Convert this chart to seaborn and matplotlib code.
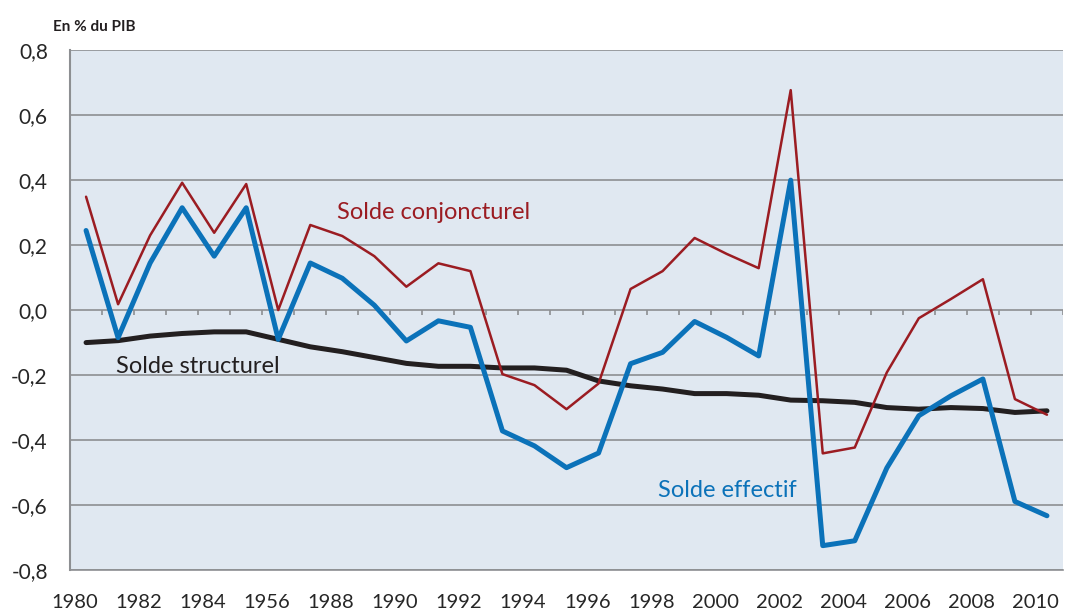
import numpy as np
import pandas as pd
import seaborn as sns
import matplotlib.pyplot as plt
from matplotlib.ticker import FuncFormatter
from matplotlib.transforms import ScaledTranslation

years = list(range(1980, 2011))

solde_effectif = [0.245, -0.085, 0.145, 0.315, 0.166, 0.315, -0.09, 0.145, 0.098, 0.015,
                  -0.095, -0.033, -0.053, -0.372, -0.418, -0.485, -0.44, -0.165, -0.13, -0.035,
                  -0.084, -0.141, 0.40, -0.725, -0.71, -0.486, -0.325, -0.264, -0.212, -0.589,
                  -0.633]
solde_conjoncturel = [0.349, 0.018, 0.23, 0.392, 0.238, 0.388, 0.0, 0.262, 0.228, 0.166,
                      0.072, 0.144, 0.12, -0.197, -0.231, -0.305, -0.226, 0.065, 0.12, 0.222,
                      0.173, 0.129, 0.677, -0.441, -0.423, -0.192, -0.025, 0.034, 0.095, -0.274,
                      -0.322]
solde_structurel = [-0.10, -0.094, -0.08, -0.072, -0.067, -0.067, -0.09, -0.113, -0.128, -0.146,
                    -0.164, -0.173, -0.173, -0.178, -0.178, -0.185, -0.218, -0.233, -0.243, -0.257,
                    -0.257, -0.262, -0.277, -0.279, -0.284, -0.30, -0.305, -0.30, -0.303, -0.315,
                    -0.31]

# labels as printed in the source (note the "1956" typo)
xtick_years = list(range(1980, 2011, 2))
xtick_labels = ["1980", "1982", "1984", "1956", "1988", "1990", "1992", "1994", "1996",
                "1998", "2000", "2002", "2004", "2006", "2008", "2010"]

df = pd.DataFrame({"annee": years,
                   "effectif": solde_effectif,
                   "conjoncturel": solde_conjoncturel,
                   "structurel": solde_structurel})

sns.set_style("white")
plt.rcParams["font.family"] = ["Lato", "DejaVu Sans"]

BLUE = "#0b72b9"
RED = "#9b1c22"
BLACK = "#231f20"
GRID = "#8d8f92"

fig, ax = plt.subplots(figsize=(10.71, 6.12), dpi=100)
fig.subplots_adjust(left=0.0654, right=0.9925, top=0.918, bottom=0.0686)
ax.set_facecolor("#e0e8f1")

sns.lineplot(data=df, x="annee", y="structurel", color=BLACK, linewidth=3.6, ax=ax)
sns.lineplot(data=df, x="annee", y="conjoncturel", color=RED, linewidth=1.8, ax=ax)
sns.lineplot(data=df, x="annee", y="effectif", color=BLUE, linewidth=3.6, ax=ax)

ax.set_xlim(1979.5, 2010.5)
ax.set_ylim(-0.8, 0.8)
ax.set_yticks(np.arange(-0.8, 0.81, 0.2))
ax.yaxis.set_major_formatter(FuncFormatter(lambda v, p: f"{v:.1f}".replace(".", ",").replace("-0,0", "0,0")))
ax.set_xticks(xtick_years)
ax.set_xticklabels(xtick_labels)
ax.set_xlabel("")
ax.set_ylabel("")

ax.grid(axis="y", color=GRID, linewidth=1.2)
ax.set_axisbelow(True)
for s in ["top", "right"]:
    ax.spines[s].set_visible(False)
ax.spines["left"].set_color(GRID)
ax.spines["left"].set_linewidth(1.5)
ax.spines["bottom"].set_color(GRID)
ax.spines["bottom"].set_linewidth(1.2)

ax.tick_params(axis="y", length=5, color=GRID, labelsize=15, pad=11)
ax.tick_params(axis="x", length=0, labelsize=14.5, pad=17)

# year labels sit a little left of their points in the source
offset = ScaledTranslation(0.12, 0, fig.dpi_scale_trans)
for lab in ax.get_xticklabels():
    lab.set_horizontalalignment("right")
    lab.set_transform(lab.get_transform() + offset)

# small category ticks on the zero line
ax.vlines(np.array(years) + 0.5, 0, -0.016, color=GRID, linewidth=1.2)

ax.text(1987.85, 0.30, "Solde conjoncturel", color=RED, fontsize=17, va="center")
ax.text(1980.95, -0.175, "Solde structurel", color=BLACK, fontsize=17, va="center")
ax.text(1997.85, -0.555, "Solde effectif", color=BLUE, fontsize=17, va="center")

fig.text(53 / 1071, 1 - 27 / 612, "En % du PIB", fontsize=11, fontweight="bold",
         color=BLACK, va="center")

fig.savefig("out.png", dpi=100)
